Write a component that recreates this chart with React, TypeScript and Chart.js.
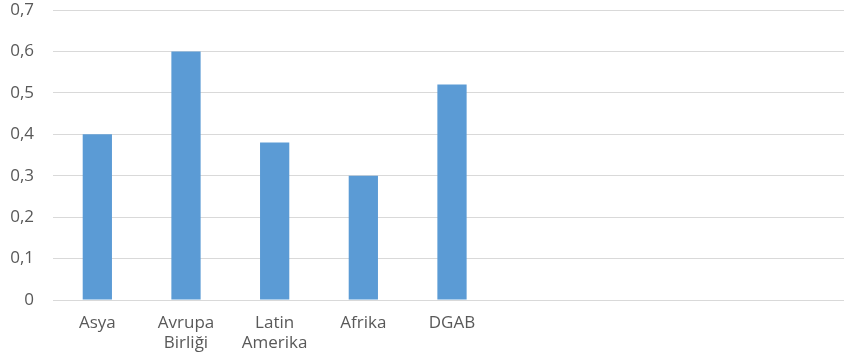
import React, { useEffect, useRef } from "react";
import { Chart, registerables } from "chart.js";

Chart.register(...registerables);

const categories: (string | string[])[] = [
  "Asya",
  ["Avrupa", "Birliği"],
  ["Latin", "Amerika"],
  "Afrika",
  "DGAB",
  "",
  "",
  "",
  "",
];
const values: (number | null)[] = [0.4, 0.6, 0.38, 0.3, 0.52, null, null, null, null];
const yMin = 0;
const yMax = 0.7;
const yStep = 0.1;

export default function App() {
  const ref = useRef<HTMLCanvasElement | null>(null);
  useEffect(() => {
    if (!ref.current) return;
    const chart = new Chart(ref.current, {
      type: "bar",
      data: {
        labels: categories,
        datasets: [
          {
            data: values,
            backgroundColor: "#5b9bd5",
            borderWidth: 0,
            barPercentage: 0.33,
            categoryPercentage: 1,
          },
        ],
      },
      options: {
        responsive: false,
        animation: false,
        devicePixelRatio: 1,
        layout: { padding: { top: 10, right: 1, bottom: 0, left: 0 } },
        plugins: { legend: { display: false }, tooltip: { enabled: false } },
        scales: {
          x: {
            grid: { display: false, drawTicks: false },
            border: { display: false },
            ticks: {
              color: "#595959",
              font: { family: "'Open Sans'", size: 17 },
              padding: 13,
              maxRotation: 0,
              autoSkip: false,
              lineHeight: 1.1,
            },
            afterFit: (s: any) => {
              s.height = 58;
              s.paddingLeft = 0;
              s.paddingRight = 0;
            },
          },
          y: {
            min: yMin,
            max: yMax,
            grid: { color: "#d9d9d9", lineWidth: 1, drawTicks: false },
            border: { display: false },
            ticks: {
              stepSize: yStep,
              color: "#595959",
              font: { family: "'Open Sans'", size: 17 },
              padding: 19,
              callback: (v: any) => {
                const n = Number(v);
                return n === 0 ? "0" : n.toFixed(1).replace(".", ",");
              },
            },
            afterFit: (s: any) => {
              s.width = 53;
              s.paddingTop = 0;
              s.paddingBottom = 0;
            },
          },
        },
      },
    });
    return () => chart.destroy();
  }, []);
  return (
    <div
      style={{
        position: "absolute",
        left: 0,
        top: 0,
        width: 844,
        height: 358,
        overflow: "hidden",
        background: "#fff",
      }}
    >
      <canvas ref={ref} width={852} height={358} style={{ display: "block" }} />
    </div>
  );
}
